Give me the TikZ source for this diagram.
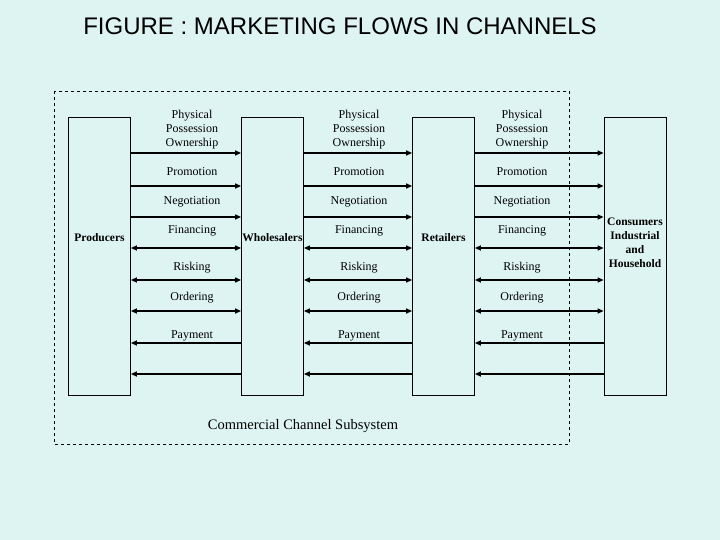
\documentclass[tikz,border=0pt]{standalone}
\usepackage{fontspec}
\setmainfont{Liberation Serif}
\newfontfamily\sansf{Liberation Sans}
\usetikzlibrary{arrows.meta}
\definecolor{bg}{HTML}{DDF4F2}
\begin{document}
\begin{tikzpicture}[x=1pt,y=-1pt,
  box/.style={draw,thick,minimum width=62pt,minimum height=278pt,inner sep=0pt},
  bl0/.style={font=\fontsize{11.5}{14}\selectfont\bfseries,align=center,inner sep=0pt},
  lab/.style={font=\fontsize{12}{14}\selectfont,align=center,inner sep=1pt},
  fl/.style={line width=1.8pt,-{Triangle[length=6pt,width=5pt]}},
  bl/.style={line width=1.8pt,{Triangle[length=6pt,width=5pt]}-{Triangle[length=6pt,width=5pt]}},
  ll/.style={line width=1.8pt,{Triangle[length=6pt,width=5pt]}-}]
\fill[bg] (0,0) rectangle (720,540);
\useasboundingbox (0,0) rectangle (720,540);
\node[font=\sansf\fontsize{24}{28}\selectfont] (title) at (340,26) {FIGURE : MARKETING FLOWS IN CHANNELS};
\draw[dashed] (54,91) rectangle (569,444);
\node[box] (p) at (99.5,256) {};
\node[box] (w) at (272.5,256) {};
\node[box] (r) at (443.5,256) {};
\node[box] (c) at (635,256) {};
\node[bl0] (pl) at (99.5,238) {Producers};
\node[bl0] (wl) at (272.5,238) {Wholesalers};
\node[bl0] (rl) at (443.5,238) {Retailers};
\node[bl0] (cl) at (635,243) {Consumers\\Industrial\\and\\Household};
\foreach \a/\b/\m in {p/w/192,w/r/359,r/c/522}{
  \coordinate (A) at (\a.east); \coordinate (B) at (\b.west);
  \draw[fl] (A|-0,153) -- (B|-0,153);
  \draw[fl] (A|-0,186) -- (B|-0,186);
  \draw[fl] (A|-0,217) -- (B|-0,217);
  \draw[bl] (A|-0,248) -- (B|-0,248);
  \draw[bl] (A|-0,280) -- (B|-0,280);
  \draw[bl] (A|-0,311) -- (B|-0,311);
  \draw[ll] (A|-0,343) -- (B|-0,343);
  \draw[ll] (A|-0,374) -- (B|-0,374);
  \node[lab] at (\m,130) {Physical\\Possession\\Ownership};
  \node[lab] at (\m,172) {Promotion};
  \node[lab] at (\m,202) {Negotiation};
  \node[lab] at (\m,231) {Financing};
  \node[lab] at (\m,268) {Risking};
  \node[lab] at (\m,298) {Ordering};
  \node[lab] at (\m,336) {Payment};
}
\node[font=\fontsize{14.5}{16}\selectfont] (sub) at (303,426) {Commercial Channel Subsystem};
\end{tikzpicture}
\end{document}
